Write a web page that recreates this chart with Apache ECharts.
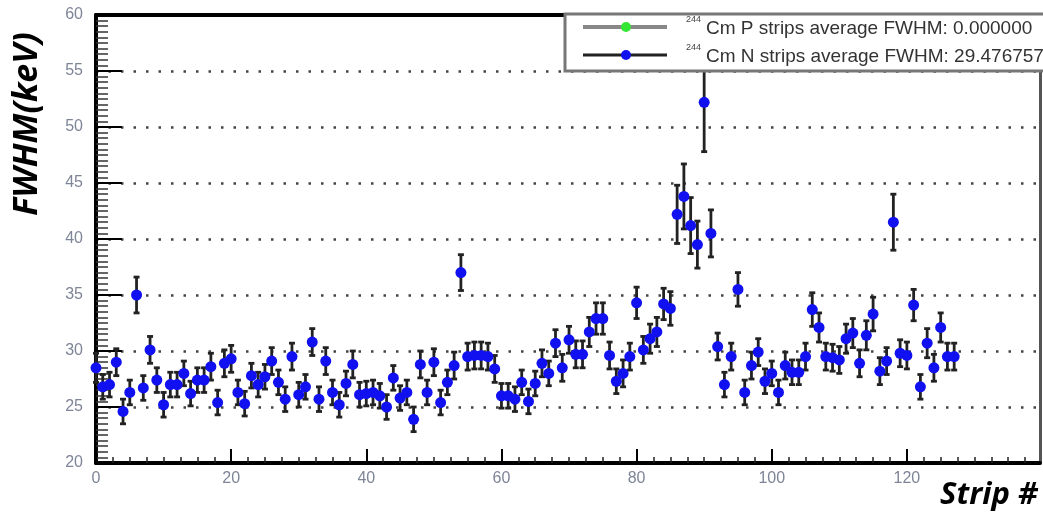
<!DOCTYPE html>
<html>
<head>
<meta charset="utf-8">
<title>FWHM per strip</title>
<script src="https://cdn.jsdelivr.net/npm/echarts@6/dist/echarts.min.js"></script>
<style>
  html, body { margin: 0; padding: 0; background: #fff; }
  #main { width: 1043px; height: 513px; }
</style>
</head>
<body>
<div id="main"></div>
<script>
// FWHM (keV) of each N strip, strip number = index
var fwhm = [
  28.5, 26.8, 27.0, 29.0, 24.6, 26.3, 35.0, 26.7, 30.1, 27.4,
  25.2, 27.0, 27.0, 28.0, 26.2, 27.4, 27.4, 28.6, 25.4, 28.9,
  29.3, 26.3, 25.3, 27.8, 27.0, 27.7, 29.1, 27.2, 25.7, 29.5,
  26.1, 26.8, 30.8, 25.7, 29.1, 26.3, 25.2, 27.1, 28.8, 26.1,
  26.2, 26.3, 26.0, 25.0, 27.6, 25.8, 26.3, 23.9, 28.8, 26.3,
  29.0, 25.4, 27.2, 28.7, 37.0, 29.5, 29.6, 29.6, 29.5, 28.4,
  26.0, 26.0, 25.7, 27.2, 25.5, 27.1, 28.9, 28.0, 30.7, 28.5,
  31.0, 29.7, 29.7, 31.7, 32.9, 32.9, 29.6, 27.3, 28.0, 29.5,
  34.3, 30.1, 31.1, 31.7, 34.2, 33.8, 42.2, 43.8, 41.2, 39.5,
  52.2, 40.5, 30.4, 27.0, 29.5, 35.5, 26.3, 28.7, 29.9, 27.3,
  28.0, 26.3, 28.7, 28.1, 28.1, 29.5, 33.7, 32.1, 29.5, 29.4,
  29.2, 31.1, 31.6, 28.9, 31.4, 33.3, 28.2, 29.1, 41.5, 29.8,
  29.6, 34.1, 26.8, 30.7, 28.5, 32.1, 29.5, 29.5
];
// error on each point
var fwhmErr = [
  1.3, 1.1, 1.1, 1.2, 1.1, 1.1, 1.6, 1.1, 1.2, 1.1,
  1.1, 1.1, 1.1, 1.1, 1.1, 1.1, 1.1, 1.2, 1.1, 1.2,
  1.2, 1.1, 1.1, 1.1, 1.1, 1.1, 1.2, 1.1, 1.1, 1.2,
  1.1, 1.1, 1.2, 1.1, 1.2, 1.1, 1.1, 1.1, 1.2, 1.1,
  1.1, 1.1, 1.1, 1.1, 1.1, 1.1, 1.1, 1.1, 1.2, 1.1,
  1.2, 1.1, 1.1, 1.2, 1.6, 1.2, 1.2, 1.2, 1.2, 1.2,
  1.1, 1.1, 1.1, 1.1, 1.1, 1.1, 1.2, 1.1, 1.2, 1.2,
  1.2, 1.2, 1.2, 1.3, 1.4, 1.4, 1.2, 1.1, 1.2, 1.2,
  1.4, 1.2, 1.3, 1.3, 1.4, 1.5, 2.6, 2.9, 2.5, 2.1,
  4.4, 2.1, 1.2, 1.1, 1.2, 1.5, 1.1, 1.2, 1.2, 1.1,
  1.1, 1.1, 1.2, 1.1, 1.1, 1.2, 1.5, 1.3, 1.2, 1.2,
  1.2, 1.3, 1.3, 1.2, 1.3, 1.5, 1.2, 1.2, 2.5, 1.2,
  1.2, 1.4, 1.1, 1.3, 1.2, 1.3, 1.2, 1.2
];
var xTicks = [0, 20, 40, 60, 80, 100, 120];
var yTicks = [20, 25, 30, 35, 40, 45, 50, 55, 60];
var legendP = 'Cm P strips average FWHM: 0.000000';
var legendN = 'Cm N strips average FWHM: 29.476757';
var isotope = '244';

var points = fwhm.map(function (v, i) { return [i, v, fwhmErr[i]]; });

var tickColor = '#7d8597';
var chart = echarts.init(document.getElementById('main'));

var option = {
  animation: false,
  backgroundColor: '#fff',
  grid: { left: 96, top: 15, width: 944, height: 448, show: false },
  xAxis: [{
    type: 'value',
    min: 0, max: 139.7, interval: 20,
    axisLine: { show: true, onZero: false, lineStyle: { color: '#000', width: 4 } },
    axisTick: { show: true, inside: true, length: 14, lineStyle: { color: '#000', width: 2 },
      customValues: xTicks },
    minorTick: { show: true, splitNumber: 8, length: 6, lineStyle: { color: '#222', width: 1.5 } },
    axisLabel: { color: tickColor, fontSize: 16, fontFamily: 'Liberation Sans', margin: 8,
      customValues: xTicks },
    splitLine: { show: false }
  }, {
    type: 'value', position: 'top',
    min: 0, max: 139.7,
    axisLine: { show: true, onZero: false, lineStyle: { color: '#000', width: 4 } },
    axisTick: { show: false }, axisLabel: { show: false }, splitLine: { show: false }
  }],
  yAxis: [{
    type: 'value',
    min: 20, max: 60, interval: 5,
    axisLine: { show: true, onZero: false, lineStyle: { color: '#000', width: 4 } },
    axisTick: { show: true, inside: true, length: 26, lineStyle: { color: '#000', width: 2 },
      customValues: yTicks },
    minorTick: { show: true, splitNumber: 10, length: 12, lineStyle: { color: '#333', width: 1.5 } },
    axisLabel: { color: tickColor, fontSize: 16, fontFamily: 'Liberation Sans', margin: 13,
      customValues: yTicks },
    splitLine: { show: true, lineStyle: { color: '#444', width: 2.5, type: [2.5, 10] } }
  }, {
    type: 'value', position: 'right',
    min: 20, max: 60,
    axisLine: { show: true, onZero: false, lineStyle: { color: '#555', width: 3 } },
    axisTick: { show: false }, axisLabel: { show: false }, splitLine: { show: false }
  }],
  series: [
    {
      // error bars
      type: 'custom',
      name: 'err',
      data: points,
      encode: { x: 0, y: 1 },
      z: 3,
      renderItem: function (params, api) {
        var x = api.value(0);
        var lo = api.coord([x, api.value(1) - api.value(2)]);
        var hi = api.coord([x, api.value(1) + api.value(2)]);
        var st = { stroke: '#222', lineWidth: 2.8 };
        return {
          type: 'group',
          children: [
            { type: 'line', shape: { x1: lo[0], y1: lo[1], x2: hi[0], y2: hi[1] }, style: st },
            { type: 'line', shape: { x1: lo[0] - 3, y1: lo[1], x2: lo[0] + 3, y2: lo[1] }, style: st },
            { type: 'line', shape: { x1: hi[0] - 3, y1: hi[1], x2: hi[0] + 3, y2: hi[1] }, style: st }
          ]
        };
      }
    },
    {
      type: 'scatter',
      name: 'N strips',
      data: points,
      encode: { x: 0, y: 1 },
      symbol: 'circle',
      symbolSize: 11,
      z: 4,
      itemStyle: { color: '#1010f0', opacity: 1 }
    }
  ],
  graphic: [
    // legend box
    { type: 'rect', z: 50, shape: { x: 565, y: 14, width: 480, height: 57 },
      style: { fill: '#fff', stroke: '#777', lineWidth: 3 } },
    { type: 'line', z: 51, shape: { x1: 583, y1: 27, x2: 667, y2: 27 },
      style: { stroke: '#888', lineWidth: 4 } },
    { type: 'circle', z: 52, shape: { cx: 626, cy: 27, r: 5 }, style: { fill: '#33e633' } },
    { type: 'line', z: 51, shape: { x1: 583, y1: 55, x2: 667, y2: 55 },
      style: { stroke: '#222', lineWidth: 3 } },
    { type: 'circle', z: 52, shape: { cx: 626, cy: 55, r: 5 }, style: { fill: '#1010f0' } },
    { type: 'text', z: 52, x: 686, y: 20, style: { text: isotope, fill: '#444', fontSize: 9,
      fontFamily: 'Liberation Sans', verticalAlign: 'middle' } },
    { type: 'text', z: 52, x: 706, y: 29, style: { text: legendP, fill: '#333', fontSize: 19,
      fontFamily: 'Liberation Sans', verticalAlign: 'middle' } },
    { type: 'text', z: 52, x: 686, y: 48, style: { text: isotope, fill: '#444', fontSize: 9,
      fontFamily: 'Liberation Sans', verticalAlign: 'middle' } },
    { type: 'text', z: 52, x: 706, y: 57, style: { text: legendN, fill: '#333', fontSize: 19,
      fontFamily: 'Liberation Sans', verticalAlign: 'middle' } },
    // axis titles
    { type: 'text', x: 27, y: 124, rotation: Math.PI / 2,
      style: { text: 'FWHM(keV)', fill: '#000', font: 'italic bold 34px "Open Sans"',
        align: 'center', verticalAlign: 'middle' } },
    { type: 'text', x: 1038, y: 495,
      style: { text: 'Strip #', fill: '#000', font: 'italic bold 31px "Open Sans"',
        align: 'right', verticalAlign: 'middle' } }
  ]
};
chart.setOption(option);
</script>
</body>
</html>
